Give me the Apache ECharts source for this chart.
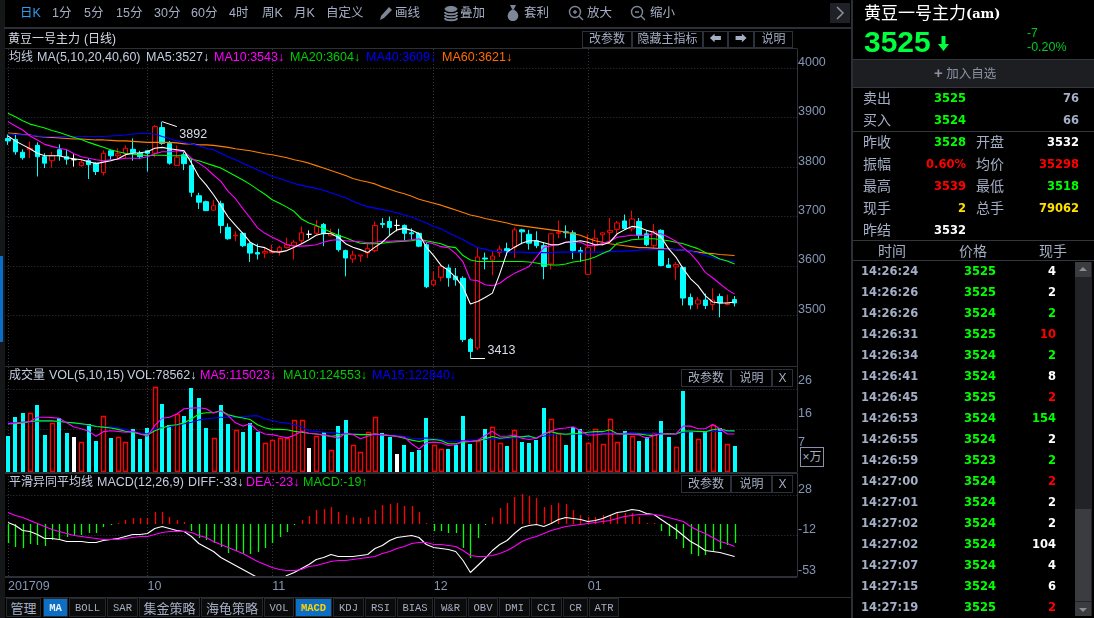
<!DOCTYPE html>
<html>
<head>
<meta charset="utf-8">
<title>黄豆一号主力</title>
<script src="https://cdn.jsdelivr.net/npm/echarts@6/dist/echarts.min.js"></script>
<style>
html, body { margin: 0; padding: 0; background: #000; overflow: hidden; }
#page { position: relative; width: 1094px; height: 618px; background: #000; overflow: hidden;
  font-family: "Liberation Sans", "Noto Sans CJK SC", sans-serif; color: #a4aec4; }
#chart { position: absolute; left: 0; top: 0; width: 1094px; height: 618px; }
.t { position: absolute; white-space: nowrap; line-height: 16px; }
.box { position: absolute; }
.btn { position: absolute; box-sizing: border-box; border: 1px solid #2b303a; text-align: center; font-size: 12px; color: #a4aec4; background: #000; }
.tab { position: absolute; top: 598px; height: 19px; line-height: 18px; box-sizing: border-box; border: 1px solid #25282e; text-align: center; background: #0b0b0b;
  font-family: "Liberation Mono", "Noto Sans CJK SC", monospace; font-size: 10.5px; color: #a4aec4; }
.num { font-family: "DejaVu Sans", sans-serif; font-size: 11.5px; font-weight: bold; }
</style>
</head>
<body>
<div id="page">
  <div id="chart"></div>
  <div id="chrome"></div>
</div>
<script>
// toolbar + side panel texts
const periodLabels = [['日K', 20], ['1分', 52], ['5分', 84], ['15分', 116], ['30分', 154], ['60分', 191], ['4时', 229], ['周K', 262], ['月K', 294], ['自定义', 326]];
const toolLabels = [['画线', 395], ['叠加', 460], ['套利', 524], ['放大', 587], ['缩小', 650]];
const tabLabels = [['管理', 6, 35], ['MA', 43, 25], ['BOLL', 69, 37], ['SAR', 107, 31], ['集金策略', 139, 61], ['海龟策略', 201, 62], ['VOL', 264, 30], ['MACD', 295, 37], ['KDJ', 333, 31], ['RSI', 365, 31], ['BIAS', 397, 36], ['W&R', 434, 33], ['OBV', 468, 30], ['DMI', 499, 31], ['CCI', 531, 31], ['CR', 563, 25], ['ATR', 589, 30]];
const tradeTimes = ['14:26:24', '14:26:26', '14:26:26', '14:26:31', '14:26:34', '14:26:41', '14:26:45', '14:26:53', '14:26:55', '14:26:59', '14:27:00', '14:27:01', '14:27:02', '14:27:02', '14:27:07', '14:27:15', '14:27:19'];
const tradePrices = [3525, 3525, 3524, 3525, 3524, 3524, 3525, 3524, 3524, 3523, 3524, 3524, 3524, 3524, 3524, 3524, 3525];
const tradeHands = [4, 2, 2, 10, 2, 8, 2, 154, 2, 2, 2, 2, 2, 104, 4, 6, 2];
const tradeColors = ['#fff', '#fff', '#0f0', '#f00', '#0f0', '#fff', '#f00', '#0f0', '#fff', '#0f0', '#f00', '#fff', '#fff', '#fff', '#fff', '#fff', '#f00'];

// 100 sessions, 8 empty slots on the right side of the axis
const monthLabels = { 0: '201709', 19: '10', 36: '11', 58: '12', 79: '01' };
const slotCount = 108;
const categories = Array.from({ length: slotCount }, (_, i) => String(i));

const opens = [
  3858,3856,3830,3835,3844,3821,3813,3835,3821,3815,
  3803,3813,3808,3789,3833,3823,3827,3836,3828,3833,
  3828,3880,3848,3803,3825,3803,3742,3730,3713,3726,
  3678,3661,3666,3645,3627,3626,3627,3630,3637,3641,
  3651,3664,3666,3684,3661,3662,3631,3614,3620,3626,
  3631,3686,3690,3682,3682,3667,3666,3643,3562,3577,
  3596,3579,3575,3451,3434,3616,3612,3627,3635,3638,
  3673,3664,3651,3641,3604,3666,3669,3667,3631,3583,
  3641,3663,3668,3674,3691,3675,3690,3665,3641,3672,
  3602,3598,3597,3536,3523,3531,3522,3538,3522,3532];
const closes = [
  3853,3831,3819,3838,3821,3808,3823,3823,3816,3815,
  3810,3805,3791,3828,3823,3827,3838,3829,3821,3828,
  3882,3848,3808,3820,3807,3749,3729,3712,3722,3682,
  3655,3662,3641,3626,3624,3629,3630,3637,3643,3648,
  3667,3664,3680,3665,3666,3633,3616,3622,3622,3635,
  3682,3684,3678,3682,3666,3665,3640,3558,3571,3599,
  3576,3572,3451,3427,3618,3614,3620,3634,3631,3673,
  3669,3646,3641,3599,3665,3668,3667,3631,3628,3637,
  3656,3667,3672,3687,3676,3695,3662,3643,3670,3601,
  3597,3603,3535,3521,3531,3520,3531,3525,3525,3525];
const lows = [
  3845,3825,3815,3818,3781,3798,3799,3813,3805,3801,
  3801,3776,3784,3783,3815,3816,3818,3813,3816,3791,
  3820,3845,3805,3803,3794,3740,3715,3711,3712,3666,
  3653,3650,3638,3608,3613,3616,3626,3621,3635,3613,
  3645,3656,3662,3640,3660,3629,3579,3606,3608,3616,
  3628,3677,3662,3670,3651,3653,3638,3555,3559,3569,
  3558,3560,3446,3413,3430,3593,3581,3618,3621,3616,
  3644,3633,3636,3573,3593,3656,3656,3614,3608,3583,
  3629,3641,3648,3662,3674,3670,3655,3640,3635,3599,
  3596,3572,3520,3512,3513,3513,3510,3496,3520,3518];
const highs = [
  3866,3865,3836,3852,3850,3828,3831,3846,3835,3826,
  3816,3818,3810,3834,3835,3838,3844,3858,3833,3835,
  3885,3892,3853,3844,3832,3818,3748,3732,3734,3732,
  3686,3670,3668,3648,3645,3637,3643,3641,3657,3653,
  3680,3672,3693,3687,3675,3675,3633,3631,3622,3645,
  3690,3697,3700,3694,3684,3676,3668,3648,3589,3601,
  3603,3596,3579,3454,3637,3627,3630,3641,3647,3678,
  3675,3673,3670,3648,3666,3692,3682,3672,3638,3664,
  3674,3668,3697,3691,3704,3712,3697,3673,3685,3674,
  3616,3608,3599,3544,3537,3544,3555,3544,3542,3539];

const ma5 = [
  3863,3853,3845,3837,3828,3823,3823,3823,3819,3817,
  3815,3811,3807,3810,3813,3817,3825,3828,3829,3831,
  3838,3840,3837,3835,3833,3808,3781,3764,3744,3722,
  3699,3682,3666,3648,3640,3637,3629,3628,3631,3638,
  3645,3653,3662,3666,3665,3658,3645,3638,3633,3627,
  3638,3648,3662,3673,3676,3672,3665,3638,3621,3601,
  3591,3577,3557,3523,3528,3536,3545,3584,3628,3638,
  3646,3651,3651,3647,3643,3643,3648,3649,3651,3648,
  3643,3643,3648,3665,3673,3680,3678,3672,3668,3658,
  3635,3618,3594,3574,3560,3540,3527,3525,3525,3527];
const ma10 = [
  3892,3883,3875,3863,3855,3846,3842,3838,3835,3827,
  3821,3818,3815,3813,3815,3816,3818,3818,3818,3821,
  3827,3831,3831,3833,3831,3818,3808,3798,3784,3771,
  3751,3736,3716,3697,3677,3666,3658,3651,3643,3640,
  3640,3641,3643,3648,3652,3653,3651,3650,3649,3647,
  3648,3650,3650,3651,3651,3653,3655,3648,3645,3639,
  3637,3625,3608,3572,3570,3562,3560,3565,3576,3585,
  3592,3599,3618,3637,3641,3643,3648,3649,3648,3641,
  3641,3646,3650,3658,3660,3662,3662,3662,3665,3665,
  3658,3650,3637,3625,3608,3587,3576,3564,3552,3543];
const ma20 = [
  3909,3902,3894,3887,3883,3879,3874,3870,3865,3860,
  3856,3850,3845,3840,3835,3831,3828,3826,3825,3823,
  3824,3824,3823,3823,3823,3816,3813,3808,3803,3798,
  3790,3782,3774,3765,3755,3745,3734,3727,3719,3710,
  3695,3687,3682,3675,3668,3662,3657,3651,3646,3645,
  3645,3646,3648,3649,3650,3651,3654,3651,3648,3645,
  3639,3637,3621,3612,3609,3609,3609,3609,3609,3609,
  3609,3608,3606,3603,3602,3602,3604,3608,3610,3613,
  3618,3625,3631,3646,3649,3653,3654,3655,3655,3653,
  3651,3648,3645,3640,3635,3627,3621,3614,3610,3604];
const ma40 = [
  3867,3866,3865,3864,3863,3862,3862,3862,3862,3862,
  3862,3862,3862,3862,3863,3864,3865,3867,3868,3868,
  3867,3862,3858,3853,3850,3847,3843,3838,3835,3828,
  3821,3815,3808,3801,3794,3788,3781,3777,3772,3767,
  3763,3760,3757,3753,3748,3743,3738,3731,3725,3720,
  3717,3714,3711,3707,3703,3699,3693,3687,3680,3675,
  3667,3660,3653,3645,3637,3634,3630,3629,3628,3628,
  3628,3627,3627,3627,3627,3628,3628,3628,3628,3628,
  3628,3628,3629,3630,3630,3631,3632,3633,3633,3633,
  3633,3633,3632,3630,3626,3621,3617,3613,3610,3609];
const ma60 = [
  3869,3868,3866,3865,3862,3861,3860,3859,3858,3857,
  3857,3856,3855,3855,3854,3853,3853,3852,3851,3850,
  3850,3850,3850,3849,3847,3847,3845,3845,3844,3842,
  3840,3837,3835,3833,3830,3827,3825,3822,3819,3815,
  3812,3808,3803,3798,3793,3788,3783,3777,3773,3770,
  3766,3760,3755,3750,3746,3741,3735,3731,3727,3723,
  3718,3713,3708,3703,3700,3696,3693,3690,3687,3683,
  3681,3679,3677,3675,3673,3671,3668,3665,3662,3656,
  3651,3648,3645,3643,3641,3639,3637,3637,3636,3635,
  3634,3633,3632,3630,3628,3626,3625,3623,3622,3621];

// volume, unit 万手
const volumes = [
  11.0,16.8,17.9,18.0,20.5,11.3,14.9,16.4,11.9,10.7,
  9.1,14.4,9.2,17.0,10.2,10.6,9.1,12.9,9.8,13.3,
  25.9,20.8,14.1,17.6,17.1,25.7,22.6,13.2,10.3,20.5,
  14.4,12.8,12.2,14.8,12.2,8.8,9.7,10.3,10.4,15.8,
  15.8,7.3,10.9,12.2,6.6,13.8,15.9,8.2,6.0,12.1,
  16.7,11.7,10.5,5.5,8.0,6.1,6.7,16.5,8.0,6.9,
  7.0,8.2,17.1,8.3,9.2,12.9,13.7,8.8,7.7,12.8,
  8.9,8.7,9.5,19.3,16.1,11.7,8.0,13.6,12.9,8.8,
  13.1,8.5,16.1,9.1,12.5,11.0,9.2,10.5,11.7,15.6,
  10.7,7.5,24.5,12.0,10.0,12.0,14.3,13.4,8.5,7.86];
const volMa5 = [
  14.6,14.9,15.1,15.3,16.6,16.6,16.5,16.3,14.9,13.6,
  13.1,12.3,10.8,12.2,12.5,12.3,12.0,12.3,11.5,10.8,
  14.1,16.3,16.6,17.6,19.2,19.4,19.5,19.2,17.9,18.5,
  17.1,14.9,13.9,14.6,12.5,11.5,11.3,10.8,10.3,11.0,
  12.3,11.7,11.5,11.3,10.7,10.2,11.7,11.3,10.0,10.8,
  11.5,11.3,11.0,10.8,10.5,8.5,6.9,8.8,9.0,8.8,
  8.0,8.2,9.4,9.2,9.5,11.0,12.3,10.8,10.8,11.2,
  10.2,9.8,10.2,11.5,12.5,13.1,13.3,13.7,12.5,11.2,
  11.2,11.5,11.5,11.5,11.5,11.5,11.2,10.2,11.0,11.5,
  11.5,11.5,13.9,13.9,13.1,13.1,14.4,13.1,11.5,11.5];
const volMa10 = [
  14.6,14.6,14.9,15.3,15.5,15.5,15.5,15.3,15.1,14.9,
  14.6,14.3,13.8,13.6,13.3,12.9,12.3,12.0,11.5,11.2,
  12.5,13.3,14.1,14.3,14.9,16.1,17.6,18.0,18.0,18.7,
  17.4,16.8,16.4,15.9,14.3,13.4,12.9,12.9,12.8,12.3,
  12.0,11.7,11.5,11.1,10.8,11.0,11.5,11.4,11.3,11.3,
  11.5,11.2,11.0,10.7,10.2,9.6,9.2,9.6,9.8,9.5,
  8.5,8.5,9.0,9.2,9.4,10.0,10.7,10.2,10.4,10.7,
  10.6,10.9,10.2,11.5,12.2,11.6,11.4,11.6,11.7,12.0,
  12.2,12.2,12.8,11.6,11.5,11.4,11.5,11.2,11.0,11.5,
  11.6,11.5,12.4,12.4,12.3,12.2,12.8,13.1,12.5,12.45];
const volMa15 = [
  14.9,14.9,15.1,15.1,15.3,15.3,15.3,15.3,15.1,14.7,
  14.5,14.1,13.9,13.8,13.6,13.4,12.9,12.2,11.8,11.5,
  13.1,13.4,13.7,14.1,14.6,15.1,15.8,16.1,16.4,16.6,
  16.6,16.6,16.8,17.0,17.1,16.1,15.6,15.1,14.8,14.3,
  13.6,12.5,12.3,12.0,11.9,11.7,11.6,11.5,11.4,11.3,
  11.2,11.2,11.1,11.0,10.7,10.2,10.0,10.3,10.0,9.8,
  9.2,9.2,9.5,9.6,9.6,9.8,10.0,10.0,10.1,10.3,
  10.3,10.4,10.5,10.8,11.3,11.5,11.5,11.5,11.5,11.5,
  11.7,11.7,11.8,11.7,11.6,12.0,11.6,11.6,11.5,11.7,
  11.5,11.5,12.0,12.2,12.2,12.2,12.3,12.3,12.2,12.28];

const macdBars = [
  -19,-23,-24,-20,-21,-22,-16,-16,-13,-12,
  -11,-9,-9,-3,-1,1,4,6,6,6,
  12,12,7,4,2,-7,-14,-16,-19,-23,
  -29,-27,-30,-30,-28,-24,-19,-13,-8,-1,
  4,8,14,15,17,12,9,7,6,7,
  14,19,20,21,18,18,12,1,-7,-7,
  -9,-9,-24,-34,-14,-1,7,16,21,27,
  30,28,26,17,19,21,20,14,9,7,
  7,9,9,11,11,11,7,1,1,-7,
  -12,-15,-24,-30,-32,-31,-28,-25,-21,-19];
const diff = [
  1,-2,-7,-8,-11,-15,-15,-16,-18,-18,
  -18,-19,-19,-17,-16,-15,-13,-11,-11,-10,
  -5,-3,-5,-7,-8,-13,-20,-24,-28,-34,
  -38,-42,-46,-50,-54,-58,-60,-57,-52,-49,
  -45,-41,-36,-34,-31,-33,-33,-33,-32,-31,
  -25,-22,-17,-14,-13,-12,-14,-21,-24,-25,
  -26,-28,-37,-49,-42,-35,-27,-21,-17,-10,
  -4,-2,-1,-3,0,4,6,5,4,2,
  3,5,8,11,12,14,13,10,9,4,
  -1,-6,-12,-18,-22,-27,-28,-29,-31,-33];
const dea = [
  11,8,6,3,0,-3,-6,-8,-10,-12,
  -13,-14,-15,-16,-16,-16,-15,-14,-13,-13,
  -11,-9,-8,-8,-8,-9,-12,-14,-18,-21,
  -24,-27,-30,-34,-38,-41,-44,-46,-47,-47,
  -46,-43,-42,-40,-38,-37,-37,-36,-35,-34,
  -33,-30,-28,-25,-23,-20,-19,-19,-21,-21,
  -22,-23,-27,-32,-33,-33,-32,-30,-27,-23,
  -18,-15,-13,-10,-7,-5,-3,-2,-1,0,
  1,2,3,5,7,8,9,9,9,8,
  6,4,2,-3,-7,-10,-14,-18,-20,-23];

const priceTicks = [3500, 3600, 3700, 3800, 3900, 4000];
const volumeTicks = [7, 16, 26];
const volumeGrid = [12.9, 25.2];
const macdTicks = [-53, -12, 28];

const UP = '#ff0000', DOWN = '#00ffff', FLAT = '#ffffff';
const axisText = '#8496b4', axisLineColor = '#2f323a', gridDots = '#33363c';

function barColor(i) {
    if (closes[i] > opens[i]) return UP;
    if (closes[i] < opens[i]) return DOWN;
    return FLAT;
}

const candleData = opens.map((o, i) => {
    const item = { value: [o, closes[i], lows[i], highs[i]] };
    if (o === closes[i]) {
        item.itemStyle = { color: FLAT, color0: FLAT, borderColor: FLAT, borderColor0: FLAT, borderColorDoji: FLAT };
    }
    return item;
});

// volume and macd bars snapped to whole pixels, the plain bar series comes out blurred
function renderVolume(params, api) {
    const i = api.value(0);
    const top = api.coord([i, api.value(1)]);
    const base = api.coord([i, 0]);
    const x = Math.round(top[0]);
    const y = Math.round(top[1]);
    const h = Math.round(base[1]) - y;
    const color = barColor(i);
    if (color === UP) {
        return { type: 'rect', shape: { x: x - 1.5, y: y + 0.5, width: 4, height: h - 1 }, style: { fill: '#000', stroke: UP, lineWidth: 1.3 } };
    }
    return { type: 'rect', shape: { x: x - 2, y: y, width: 4, height: h }, style: { fill: color } };
}

function renderMacd(params, api) {
    const i = api.value(0);
    const v = api.value(1);
    const end = api.coord([i, v]);
    const zero = api.coord([i, 0]);
    const x = Math.round(end[0]) + 0.5;
    return {
        type: 'line',
        shape: { x1: x, y1: Math.round(zero[1]), x2: x, y2: Math.round(end[1]) },
        style: { stroke: v > 0 ? '#ff0000' : '#00ff00', lineWidth: 1.3 }
    };
}

function lineSeries(name, data, color, xIdx, yIdx) {
    return {
        name: name, type: 'line', data: data, xAxisIndex: xIdx, yAxisIndex: yIdx,
        symbol: 'none', showSymbol: false, smooth: false, silent: true,
        lineStyle: { color: color, width: 1.1 }, z: 5
    };
}

function xAxis(gridIndex, showLabels) {
    return {
        type: 'category', gridIndex: gridIndex, data: categories, boundaryGap: true,
        axisLine: { show: false }, axisTick: { show: false },
        axisLabel: {
            show: showLabels, color: axisText, fontSize: 12.5, align: 'left', margin: 4,
            fontFamily: 'Liberation Sans',
            interval: (i) => monthLabels[i] !== undefined,
            formatter: (v, i) => monthLabels[i] || ''
        },
        splitLine: {
            show: true, alignWithLabel: true,
            interval: (i) => monthLabels[i] !== undefined,
            lineStyle: { color: gridDots, type: [1, 2] }
        }
    };
}

function yAxis(gridIndex, min, max, ticks, showLabels, showSplit) {
    return {
        type: 'value', gridIndex: gridIndex, position: 'right', min: min, max: max, scale: true,
        axisLine: { show: true, onZero: false, lineStyle: { color: axisLineColor } },
        axisLabel: {
            show: showLabels, customValues: ticks, color: axisText, fontSize: 12.5, margin: 1,
            fontFamily: 'Liberation Sans', verticalAlign: 'bottom', lineHeight: 12,
            formatter: (v) => String(v)
        },
        axisTick: { show: false, customValues: ticks },
        splitLine: { show: showSplit, lineStyle: { color: gridDots, type: [1, 2] } }
    };
}

const chart = echarts.init(document.getElementById('chart'));
chart.setOption({
    backgroundColor: '#000',
    animation: false,
    tooltip: { show: false },
    grid: [
        { left: 4.33, right: 297, top: 49, height: 317 },
        { left: 4.33, right: 297, top: 367, height: 104.5 },
        { left: 4.33, right: 297, top: 473, height: 103.5 }
    ],
    xAxis: [xAxis(0, false), xAxis(1, false), xAxis(2, true)],
    yAxis: [
        yAxis(0, 3397.5, 4039, priceTicks, true, true),
        yAxis(1, 0, 32, volumeTicks, true, false),
        yAxis(1, 0, 32, volumeGrid, false, true),
        yAxis(2, -53, 50.5, macdTicks, true, true)
    ],
    series: [
        {
            type: 'candlestick', data: candleData, xAxisIndex: 0, yAxisIndex: 0, barWidth: 5, silent: true,
            itemStyle: { color: '#000', color0: DOWN, borderColor: UP, borderColor0: DOWN, borderWidth: 1 },
            markLine: {
                silent: true, symbol: 'none', label: { show: false },
                lineStyle: { color: '#ffffff', width: 1, type: 'solid' },
                data: [
                    [{ coord: ['21', 3892] }, { coord: ['23', 3882] }],
                    [{ coord: ['63', 3413] }, { coord: ['65', 3413] }]
                ]
            },
            markPoint: {
                silent: true, symbol: 'circle', symbolSize: 1, z: 20,
                itemStyle: { color: 'transparent', borderColor: 'transparent' },
                label: { show: true, formatter: '{c}', color: '#d8dde8', opacity: 1, fontSize: 12.5, fontFamily: 'Liberation Sans', position: 'right', distance: 1 },
                data: [
                    { coord: ['23', 3865], value: 3892, name: 'high' },
                    { coord: ['65', 3429], value: 3413, name: 'low' }
                ]
            }
        },
        lineSeries('MA60', ma60, '#ff7f00', 0, 0),
        lineSeries('MA40', ma40, '#0000ff', 0, 0),
        lineSeries('MA20', ma20, '#00ff00', 0, 0),
        lineSeries('MA10', ma10, '#ff00ff', 0, 0),
        lineSeries('MA5', ma5, '#ffffff', 0, 0),
        {
            type: 'custom', data: volumes.map((v, i) => [i, v]), xAxisIndex: 1, yAxisIndex: 1, silent: true,
            encode: { x: 0, y: 1 }, renderItem: renderVolume
        },
        lineSeries('VOL15', volMa15, '#0000ff', 1, 1),
        lineSeries('VOL10', volMa10, '#00ff00', 1, 1),
        lineSeries('VOL5', volMa5, '#ff00ff', 1, 1),
        {
            type: 'custom', data: macdBars.map((v, i) => [i, v]), xAxisIndex: 2, yAxisIndex: 3, silent: true,
            encode: { x: 0, y: 1 }, renderItem: renderMacd
        },
        lineSeries('DIFF', diff, '#ffffff', 2, 3),
        lineSeries('DEA', dea, '#ff00ff', 2, 3)
    ]
});

// everything around the panes: plain html on top of the canvas
let html = '';
function text(x, y, s, color, size, extra) {
    html += `<div class="t" style="left:${x}px;top:${y - 8}px;color:${color || '#a4aec4'};font-size:${size || 12}px;${extra || ''}">${s}</div>`;
}
function rtext(right, y, s, color, cls) {
    html += `<div class="t ${cls || ''}" style="right:${1094 - right}px;top:${y - 8}px;color:${color}">${s}</div>`;
}
function rect(x, y, w, h, color) {
    html += `<div class="box" style="left:${x}px;top:${y}px;width:${w}px;height:${h}px;background:${color}"></div>`;
}
function btn(x, y, w, h, s) {
    html += `<div class="btn" style="left:${x}px;top:${y}px;width:${w}px;height:${h}px;line-height:${h - 2}px">${s}</div>`;
}

// frame lines
rect(0, 0, 5, 618, '#161719');
rect(0, 256, 3, 86, '#0b6dc8');
rect(4, 27, 848, 2, '#2c2f35');
rect(5, 48, 792, 1, '#2c2f35');
rect(5, 366, 792, 1, '#2c2f35');
rect(5, 472, 792, 2, '#2c2f35');
rect(5, 576, 792, 2, '#2c2f35');
rect(5, 597, 847, 1, '#2c2f35');
rect(851, 0, 2, 618, '#2c2f35');
rect(797, 0, 1, 27, '#000');

// toolbar
periodLabels.forEach((p, i) => text(p[1], 13, p[0], i === 0 ? '#2f9cf0' : '#a4aec4', 12.5));
toolLabels.forEach(p => text(p[1], 13, p[0], '#a4aec4', 12.5));
const icon = (x, body) => html += `<svg class="box" style="left:${x}px;top:4px" width="16" height="18" viewBox="0 0 16 18" fill="none" stroke="#7d8797">${body}</svg>`;
icon(378, '<path d="M2 16 L3 12 L11 3 L14 6 L6 14 Z" fill="#7d8797" stroke="none"/>');
icon(443, '<ellipse cx="8" cy="5" rx="6" ry="2.5" fill="#7d8797"/><path d="M2 8c0 3 12 3 12 0M2 11c0 3 12 3 12 0M2 14c0 3 12 3 12 0" stroke-width="2"/>');
icon(505, '<path d="M8 5c-8 4-6 12 0 12s8-8 0-12z M5 1h6L9 5H7z" fill="#7d8797" stroke="none"/>');
icon(568, '<circle cx="7" cy="8" r="5.5" stroke-width="1.4"/><path d="M11 12l4 4M5 8h4M7 6v4" stroke-width="1.4"/>');
icon(630, '<circle cx="7" cy="8" r="5.5" stroke-width="1.4"/><path d="M11 12l4 4M5 8h4" stroke-width="1.4"/>');
rect(830, 3, 20, 20, '#1f2126');
html += `<svg class="box" style="left:834px;top:6px" width="12" height="14" fill="none" stroke="#8a92a0" stroke-width="1.5"><path d="M3 1 L9 7 L3 13"/></svg>`;

// pane headers
const headText = '#c4cde0';
text(8, 39, '黄豆一号主力', '#d5dae6', 12);
text(84, 39, '(日线)', '#d5dae6', 12);
text(9, 57, '均线', headText, 12);
text(37, 57, 'MA(5,10,20,40,60)', headText, 12.5);
text(146, 57, 'MA5:3527↓', headText, 12.5);
text(214, 57, 'MA10:3543↓', '#ff00ff', 12.5);
text(290, 57, 'MA20:3604↓', '#00cc00', 12.5);
text(366, 57, 'MA40:3609↓', '#0000ff', 12.5);
text(442, 57, 'MA60:3621↓', '#ff6a00', 12.5);
btn(582, 31, 50, 17, '改参数');
btn(632, 31, 71, 17, '隐藏主指标');
btn(703, 31, 25, 17, '⬅');
btn(728, 31, 26, 17, '➡');
btn(754, 31, 39, 17, '说明');

text(9, 375, '成交量', headText, 12);
text(49, 375, 'VOL(5,10,15)', headText, 12.5);
text(127, 375, 'VOL:78562↓', headText, 12.5);
text(200, 375, 'MA5:115023↓', '#ff00ff', 12.5);
text(283, 375, 'MA10:124553↓', '#00cc00', 12.5);
text(372, 375, 'MA15:122840↓', '#0000ff', 12.5);
btn(681, 369, 50, 18, '改参数');
btn(731, 369, 41, 18, '说明');
btn(772, 369, 21, 18, 'X');
html += `<div class="btn" style="left:800px;top:447px;width:24px;height:20px;line-height:18px;border-color:#8892a8;font-size:12px">×万</div>`;

text(9, 482, '平滑异同平均线', headText, 12);
text(97, 482, 'MACD(12,26,9)', headText, 12.5);
text(188, 482, 'DIFF:-33↓', headText, 12.5);
text(246, 482, 'DEA:-23↓', '#ff00ff', 12.5);
text(303, 482, 'MACD:-19↑', '#00cc00', 12.5);
btn(681, 475, 50, 18, '改参数');
btn(731, 475, 41, 18, '说明');
btn(772, 475, 21, 18, 'X');

// bottom tabs
tabLabels.forEach(t => {
    const on = t[0] === 'MA' || t[0] === 'MACD';
    const cjk = /[^A-Z&]/.test(t[0]);
    const style = on ? `background:#0d6fc4;font-weight:bold;color:${t[0] === 'MA' ? '#e8eefa' : '#ffd000'};` : '';
    const font = cjk ? 'font-family:\'Noto Sans CJK SC\';font-size:13px;' : '';
    html += `<div class="tab" style="left:${t[1]}px;width:${t[2]}px;${style}${font}">${t[0]}</div>`;
});

// side panel
text(864, 14, '黄豆一号主力', '#fff', 17);
text(966, 14, '(am)', '#fff', 13, 'font-family:\'DejaVu Serif\';font-weight:bold;');
text(864, 42, '3525', '#00ff3c', 30, 'font-weight:bold;line-height:16px;');
html += `<svg class="box" style="left:938px;top:36px" width="11" height="16"><path d="M3.5 0h4v8h3.5L5.5 15 0 8h3.5z" fill="#00ff3c"/></svg>`;
text(1027, 33, '-7', '#00c828', 12);
text(1027, 47, '-0.20%', '#00c828', 12.5);
rect(853, 60, 241, 27, '#1c1e22');
rect(853, 87, 241, 1, '#33363c');
rect(853, 59, 241, 1, '#33363c');
text(934, 73, '<b style="font-size:15px">+</b> 加入自选', '#8a92a2', 12.5);

const quoteRows = [
    [98, '卖出', '3525', '#00ff00', null, '76', '#a4aec4'],
    [120, '买入', '3524', '#00ff00', null, '66', '#a4aec4'],
    [142, '昨收', '3528', '#00ff00', '开盘', '3532', '#fff'],
    [164, '振幅', '0.60%', '#ff0000', '均价', '35298', '#ff0000'],
    [186, '最高', '3539', '#ff0000', '最低', '3518', '#00ff00'],
    [208, '现手', '2', '#ffe000', '总手', '79062', '#ffe000'],
    [230, '昨结', '3532', '#fff', null, null, null]
];
quoteRows.forEach(r => {
    text(863, r[0], r[1], '#a4aec4', 14);
    rtext(966, r[0], r[2], r[3], 'num');
    if (r[4]) text(976, r[0], r[4], '#a4aec4', 14);
    if (r[5]) rtext(1079, r[0], r[5], r[6], 'num');
});
rect(853, 131, 241, 1, '#33363c');
rect(853, 240, 241, 1, '#33363c');
rect(853, 260, 241, 1, '#33363c');
text(878, 251, '时间', '#a4aec4', 14);
text(959, 251, '价格', '#a4aec4', 14);
text(1039, 251, '现手', '#a4aec4', 14);

tradeTimes.forEach((t, i) => {
    const y = 271 + i * 21;
    text(861, y, t, '#a4aec4', 11.5, 'font-family:\'DejaVu Sans\';font-weight:bold;');
    rtext(996, y, tradePrices[i], '#00ff00', 'num');
    rtext(1056, y, tradeHands[i], tradeColors[i], 'num');
});

// scroll bar
rect(1075, 262, 17, 354, '#222326');
rect(1075, 262, 16, 15, '#3a3c40');
rect(1075, 509, 16, 92, '#3a3c40');
rect(1075, 602, 16, 14, '#3a3c40');
html += `<svg class="box" style="left:1075px;top:262px" width="16" height="354"><path d="M4 9h8L8 5z" fill="#8a8c90"/><path d="M4 346h8L8 350z" fill="#8a8c90"/></svg>`;

document.getElementById('chrome').innerHTML = html;
</script>
</body>
</html>
